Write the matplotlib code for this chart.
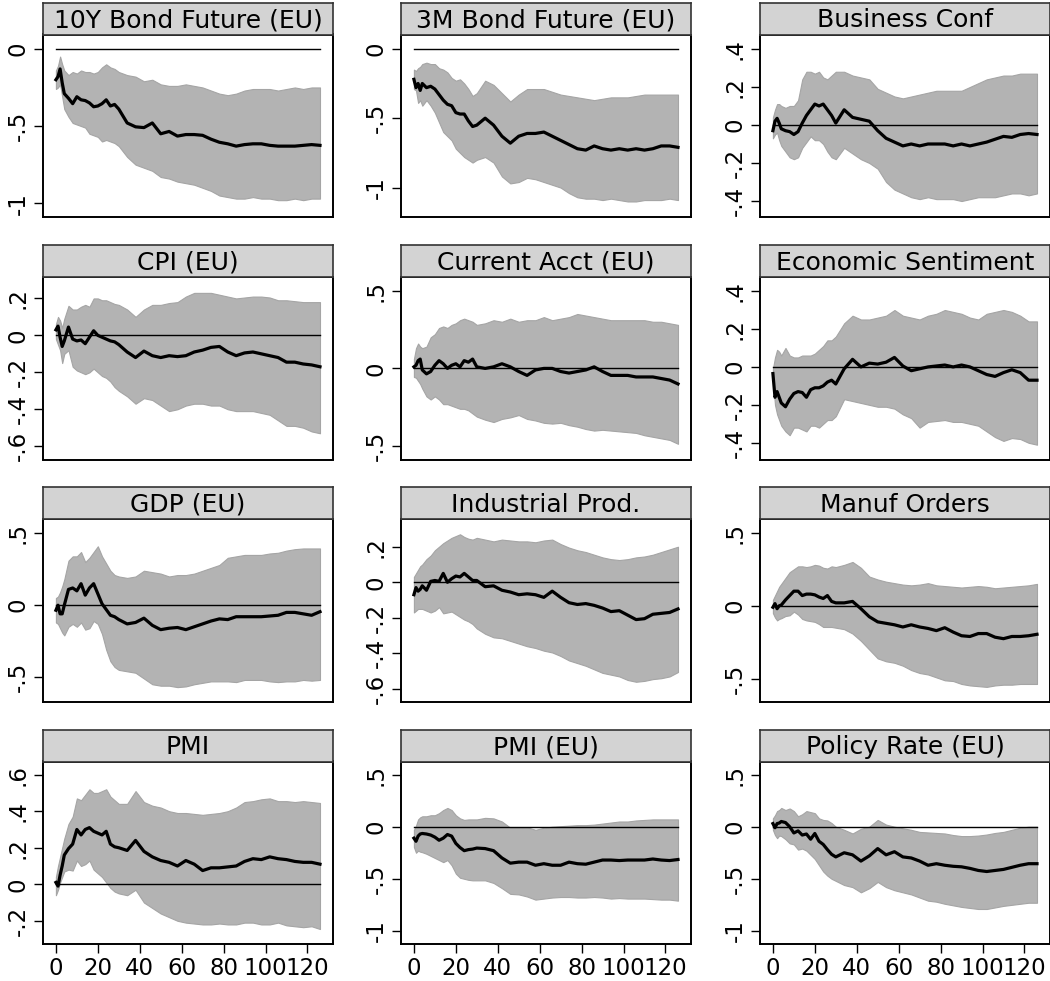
import matplotlib
matplotlib.use('Agg')
import matplotlib.pyplot as plt

# ---------------- data ----------------
horizon = [0, 1, 2, 3, 4, 6, 8, 10, 12, 14, 16, 18, 20, 22, 24, 26, 28, 30,
           34, 38, 42, 46, 50, 54, 58, 62, 66, 70, 74, 78, 82, 86, 90, 94,
           98, 102, 106, 110, 114, 118, 122, 126]

titles = ["10Y Bond Future (EU)", "3M Bond Future (EU)", "Business Conf",
          "CPI (EU)", "Current Acct (EU)", "Economic Sentiment",
          "GDP (EU)", "Industrial Prod.", "Manuf Orders",
          "PMI", "PMI (EU)", "Policy Rate (EU)"]

bond10_mean = [-0.20, -0.18, -0.13, -0.22, -0.29, -0.32, -0.355, -0.31, -0.33, -0.335, -0.35, -0.375, -0.37, -0.355,
               -0.33, -0.37, -0.36, -0.39, -0.48, -0.505, -0.51, -0.48, -0.55, -0.535, -0.565, -0.555, -0.555, -0.56,
               -0.585, -0.605, -0.615, -0.63, -0.62, -0.615, -0.615, -0.625, -0.63, -0.63, -0.63, -0.625, -0.62, -0.625]
bond10_hi = [-0.14, -0.11, -0.05, -0.10, -0.14, -0.17, -0.15, -0.16, -0.14, -0.15, -0.15, -0.16, -0.15, -0.12,
             -0.10, -0.12, -0.13, -0.15, -0.17, -0.18, -0.21, -0.20, -0.23, -0.24, -0.24, -0.23, -0.24, -0.25,
             -0.27, -0.29, -0.30, -0.29, -0.27, -0.26, -0.26, -0.26, -0.27, -0.26, -0.25, -0.26, -0.25, -0.25]
bond10_lo = [-0.26, -0.25, -0.23, -0.31, -0.39, -0.44, -0.48, -0.49, -0.50, -0.51, -0.55, -0.56, -0.57, -0.60,
             -0.59, -0.60, -0.61, -0.63, -0.70, -0.75, -0.77, -0.79, -0.83, -0.84, -0.86, -0.87, -0.88, -0.90,
             -0.92, -0.95, -0.96, -0.97, -0.97, -0.96, -0.97, -0.97, -0.98, -0.98, -0.97, -0.98, -0.97, -0.97]

bond3m_mean = [-0.22, -0.28, -0.25, -0.30, -0.25, -0.28, -0.27, -0.29, -0.33, -0.37, -0.40, -0.41, -0.46, -0.47,
               -0.47, -0.52, -0.56, -0.55, -0.50, -0.55, -0.63, -0.68, -0.63, -0.61, -0.61, -0.60, -0.63, -0.66,
               -0.69, -0.72, -0.73, -0.70, -0.72, -0.73, -0.72, -0.73, -0.72, -0.73, -0.72, -0.70, -0.70, -0.71]
bond3m_hi = [-0.15, -0.16, -0.14, -0.13, -0.11, -0.10, -0.11, -0.11, -0.14, -0.15, -0.17, -0.21, -0.23, -0.22,
             -0.25, -0.29, -0.34, -0.32, -0.23, -0.26, -0.32, -0.38, -0.33, -0.29, -0.29, -0.29, -0.31, -0.33,
             -0.34, -0.35, -0.36, -0.37, -0.36, -0.35, -0.35, -0.35, -0.34, -0.33, -0.33, -0.33, -0.33, -0.33]
bond3m_lo = [-0.29, -0.30, -0.39, -0.37, -0.41, -0.37, -0.41, -0.46, -0.53, -0.60, -0.63, -0.66, -0.72, -0.75,
             -0.78, -0.80, -0.82, -0.80, -0.78, -0.82, -0.92, -0.97, -0.96, -0.93, -0.94, -0.96, -0.98, -1.00,
             -1.04, -1.07, -1.08, -1.08, -1.09, -1.08, -1.09, -1.10, -1.10, -1.09, -1.09, -1.09, -1.08, -1.09]

busconf_mean = [-0.03, 0.02, 0.035, 0.01, -0.02, -0.03, -0.035, -0.05, -0.035, 0.01, 0.05, 0.08, 0.11, 0.10,
                0.11, 0.08, 0.05, 0.01, 0.08, 0.04, 0.03, 0.02, -0.03, -0.07, -0.09, -0.11, -0.10, -0.11,
                -0.10, -0.10, -0.10, -0.11, -0.10, -0.11, -0.10, -0.09, -0.075, -0.06, -0.065, -0.05, -0.045, -0.05]
busconf_hi = [0.04, 0.08, 0.11, 0.11, 0.10, 0.09, 0.10, 0.10, 0.13, 0.24, 0.28, 0.28, 0.27, 0.28,
              0.25, 0.24, 0.26, 0.28, 0.28, 0.26, 0.25, 0.24, 0.19, 0.17, 0.15, 0.14, 0.15, 0.16,
              0.17, 0.18, 0.18, 0.18, 0.18, 0.20, 0.22, 0.24, 0.25, 0.26, 0.26, 0.27, 0.27, 0.27]
busconf_lo = [-0.07, -0.05, -0.04, -0.08, -0.11, -0.14, -0.17, -0.18, -0.17, -0.12, -0.09, -0.06, -0.08, -0.08,
              -0.10, -0.14, -0.17, -0.18, -0.12, -0.15, -0.18, -0.20, -0.23, -0.30, -0.34, -0.36, -0.38, -0.39,
              -0.38, -0.39, -0.39, -0.39, -0.40, -0.39, -0.38, -0.38, -0.38, -0.37, -0.36, -0.36, -0.37, -0.36]

cpi_mean = [0.03, 0.05, -0.01, -0.06, -0.03, 0.045, -0.02, -0.03, -0.025, -0.045, -0.01, 0.025, 0.0, -0.01,
            -0.02, -0.03, -0.035, -0.05, -0.09, -0.12, -0.085, -0.11, -0.12, -0.11, -0.115, -0.11, -0.09, -0.08,
            -0.065, -0.06, -0.09, -0.11, -0.095, -0.09, -0.10, -0.11, -0.12, -0.145, -0.145, -0.155, -0.16, -0.17]
cpi_hi = [0.06, 0.10, 0.08, 0.04, 0.09, 0.16, 0.14, 0.14, 0.155, 0.165, 0.155, 0.20, 0.20, 0.19,
          0.19, 0.18, 0.17, 0.165, 0.14, 0.10, 0.14, 0.165, 0.165, 0.175, 0.18, 0.21, 0.23, 0.23,
          0.23, 0.22, 0.21, 0.20, 0.205, 0.21, 0.21, 0.205, 0.19, 0.19, 0.185, 0.18, 0.18, 0.18]
cpi_lo = [-0.02, -0.05, -0.08, -0.15, -0.10, -0.08, -0.17, -0.19, -0.20, -0.21, -0.20, -0.18, -0.20, -0.22,
          -0.23, -0.25, -0.28, -0.30, -0.33, -0.37, -0.34, -0.35, -0.38, -0.41, -0.40, -0.38, -0.37, -0.37,
          -0.38, -0.38, -0.40, -0.41, -0.41, -0.41, -0.42, -0.43, -0.46, -0.49, -0.49, -0.50, -0.52, -0.53]

curacct_mean = [0.01, 0.02, 0.05, 0.06, -0.01, -0.035, -0.02, 0.02, 0.05, 0.03, 0.0, 0.02, 0.03, 0.01,
                0.05, 0.04, 0.06, 0.01, 0.0, 0.01, 0.03, 0.01, -0.02, -0.045, -0.01, 0.0, 0.0, -0.02,
                -0.03, -0.02, -0.01, 0.01, -0.02, -0.045, -0.045, -0.045, -0.055, -0.055, -0.055, -0.065, -0.075, -0.10]
curacct_hi = [0.06, 0.13, 0.16, 0.14, 0.13, 0.14, 0.20, 0.22, 0.26, 0.27, 0.26, 0.28, 0.29, 0.31,
              0.32, 0.31, 0.30, 0.28, 0.29, 0.31, 0.30, 0.32, 0.30, 0.31, 0.31, 0.33, 0.31, 0.32,
              0.33, 0.35, 0.34, 0.33, 0.32, 0.31, 0.31, 0.31, 0.31, 0.31, 0.30, 0.30, 0.29, 0.28]
curacct_lo = [-0.055, -0.06, -0.08, -0.10, -0.13, -0.18, -0.20, -0.18, -0.20, -0.23, -0.23, -0.24, -0.25, -0.26,
              -0.26, -0.27, -0.29, -0.31, -0.33, -0.345, -0.325, -0.315, -0.30, -0.325, -0.335, -0.35, -0.355, -0.35,
              -0.365, -0.375, -0.39, -0.40, -0.395, -0.40, -0.405, -0.41, -0.415, -0.43, -0.44, -0.45, -0.46, -0.485]

econsent_mean = [-0.035, -0.16, -0.13, -0.16, -0.19, -0.21, -0.17, -0.14, -0.13, -0.135, -0.16, -0.12, -0.11, -0.11,
                 -0.10, -0.08, -0.07, -0.09, -0.01, 0.04, 0.0, 0.02, 0.015, 0.025, 0.05, 0.005, -0.02, -0.01,
                 0.0, 0.005, 0.01, 0.0, 0.01, 0.0, -0.02, -0.04, -0.05, -0.03, -0.015, -0.03, -0.07, -0.07]
econsent_hi = [-0.01, 0.05, 0.09, 0.08, 0.06, 0.10, 0.06, 0.05, 0.05, 0.06, 0.06, 0.06, 0.07, 0.09,
               0.11, 0.14, 0.14, 0.16, 0.23, 0.27, 0.25, 0.25, 0.26, 0.27, 0.30, 0.27, 0.26, 0.25,
               0.27, 0.28, 0.30, 0.29, 0.28, 0.26, 0.25, 0.28, 0.29, 0.30, 0.29, 0.27, 0.24, 0.24]
econsent_lo = [-0.07, -0.20, -0.25, -0.28, -0.31, -0.34, -0.36, -0.32, -0.32, -0.33, -0.34, -0.31, -0.31, -0.32,
               -0.30, -0.28, -0.28, -0.26, -0.17, -0.18, -0.19, -0.20, -0.21, -0.21, -0.22, -0.25, -0.27, -0.32,
               -0.29, -0.285, -0.28, -0.29, -0.29, -0.30, -0.31, -0.34, -0.37, -0.39, -0.375, -0.38, -0.40, -0.41]

gdp_mean = [-0.035, 0.0, -0.06, -0.06, 0.0, 0.11, 0.12, 0.10, 0.15, 0.07, 0.12, 0.15, 0.08, 0.01,
            -0.03, -0.07, -0.08, -0.10, -0.13, -0.12, -0.09, -0.14, -0.17, -0.16, -0.155, -0.17, -0.15, -0.13,
            -0.11, -0.095, -0.10, -0.08, -0.08, -0.08, -0.08, -0.075, -0.07, -0.05, -0.05, -0.06, -0.07, -0.045]
gdp_hi = [0.05, 0.06, 0.09, 0.13, 0.18, 0.31, 0.34, 0.34, 0.37, 0.30, 0.33, 0.37, 0.41, 0.34,
          0.29, 0.24, 0.21, 0.20, 0.19, 0.20, 0.24, 0.23, 0.22, 0.20, 0.21, 0.21, 0.22, 0.24,
          0.26, 0.28, 0.33, 0.34, 0.35, 0.35, 0.35, 0.36, 0.365, 0.38, 0.39, 0.395, 0.395, 0.395]
gdp_lo = [-0.12, -0.13, -0.16, -0.19, -0.21, -0.15, -0.13, -0.15, -0.12, -0.17, -0.16, -0.11, -0.13, -0.20,
          -0.31, -0.39, -0.43, -0.45, -0.46, -0.47, -0.51, -0.55, -0.56, -0.56, -0.57, -0.565, -0.55, -0.54,
          -0.53, -0.53, -0.53, -0.535, -0.52, -0.52, -0.52, -0.53, -0.535, -0.53, -0.53, -0.52, -0.525, -0.52]

indprod_mean = [-0.07, -0.03, -0.05, -0.04, -0.02, -0.045, 0.005, 0.01, 0.005, 0.05, 0.0, 0.02, 0.035, 0.03,
                0.05, 0.03, 0.01, 0.01, -0.025, -0.02, -0.045, -0.055, -0.07, -0.065, -0.07, -0.085, -0.05, -0.085,
                -0.115, -0.125, -0.12, -0.13, -0.145, -0.165, -0.16, -0.185, -0.21, -0.205, -0.18, -0.175, -0.17, -0.15]
indprod_hi = [0.03, 0.05, 0.07, 0.09, 0.10, 0.13, 0.15, 0.18, 0.20, 0.22, 0.235, 0.25, 0.26, 0.27,
              0.255, 0.245, 0.24, 0.25, 0.24, 0.23, 0.24, 0.235, 0.23, 0.23, 0.225, 0.235, 0.24, 0.215,
              0.195, 0.18, 0.17, 0.155, 0.14, 0.13, 0.125, 0.13, 0.14, 0.145, 0.155, 0.17, 0.185, 0.20]
indprod_lo = [-0.17, -0.16, -0.15, -0.15, -0.15, -0.16, -0.17, -0.16, -0.14, -0.175, -0.17, -0.165, -0.18, -0.195,
              -0.21, -0.22, -0.235, -0.26, -0.29, -0.31, -0.315, -0.33, -0.345, -0.36, -0.37, -0.385, -0.395, -0.415,
              -0.44, -0.455, -0.47, -0.49, -0.51, -0.52, -0.53, -0.55, -0.56, -0.555, -0.545, -0.54, -0.53, -0.505]

manuf_mean = [-0.01, 0.015, -0.02, 0.0, 0.005, 0.04, 0.07, 0.10, 0.10, 0.07, 0.08, 0.08, 0.075, 0.06,
              0.05, 0.07, 0.03, 0.02, 0.02, 0.03, -0.02, -0.075, -0.11, -0.12, -0.13, -0.145, -0.13, -0.145,
              -0.155, -0.17, -0.15, -0.18, -0.205, -0.21, -0.19, -0.19, -0.215, -0.225, -0.21, -0.21, -0.205, -0.195]
manuf_hi = [0.04, 0.07, 0.10, 0.13, 0.15, 0.19, 0.23, 0.25, 0.27, 0.27, 0.265, 0.27, 0.28, 0.275,
            0.26, 0.255, 0.27, 0.265, 0.28, 0.30, 0.26, 0.20, 0.18, 0.165, 0.155, 0.145, 0.14, 0.145,
            0.155, 0.14, 0.135, 0.13, 0.125, 0.13, 0.135, 0.13, 0.12, 0.125, 0.13, 0.135, 0.14, 0.15]
manuf_lo = [-0.05, -0.08, -0.10, -0.09, -0.085, -0.07, -0.065, -0.04, -0.06, -0.09, -0.10, -0.105, -0.11, -0.125,
            -0.145, -0.145, -0.145, -0.15, -0.16, -0.19, -0.24, -0.30, -0.36, -0.38, -0.39, -0.41, -0.44, -0.46,
            -0.47, -0.49, -0.51, -0.515, -0.535, -0.545, -0.55, -0.555, -0.545, -0.54, -0.54, -0.535, -0.535, -0.535]

pmi_mean = [0.01, -0.01, 0.05, 0.10, 0.16, 0.195, 0.22, 0.30, 0.27, 0.30, 0.31, 0.29, 0.28, 0.27,
            0.29, 0.22, 0.205, 0.20, 0.185, 0.24, 0.18, 0.15, 0.13, 0.12, 0.10, 0.13, 0.11, 0.075,
            0.09, 0.09, 0.095, 0.10, 0.125, 0.14, 0.135, 0.15, 0.14, 0.135, 0.125, 0.12, 0.12, 0.11]
pmi_hi = [0.04, 0.10, 0.15, 0.20, 0.25, 0.33, 0.37, 0.47, 0.46, 0.49, 0.52, 0.50, 0.50, 0.51,
          0.52, 0.48, 0.46, 0.44, 0.44, 0.51, 0.45, 0.43, 0.42, 0.40, 0.39, 0.39, 0.385, 0.38,
          0.385, 0.39, 0.40, 0.42, 0.45, 0.455, 0.465, 0.47, 0.455, 0.455, 0.45, 0.455, 0.45, 0.445]
pmi_lo = [-0.06, -0.03, 0.01, 0.04, 0.07, 0.08, 0.075, 0.13, 0.10, 0.11, 0.13, 0.08, 0.06, 0.04,
          0.01, -0.02, -0.04, -0.05, -0.06, -0.03, -0.10, -0.13, -0.16, -0.18, -0.20, -0.21, -0.215, -0.22,
          -0.22, -0.215, -0.22, -0.22, -0.21, -0.21, -0.22, -0.22, -0.21, -0.225, -0.23, -0.235, -0.23, -0.245]

pmieu_mean = [-0.11, -0.14, -0.09, -0.07, -0.065, -0.07, -0.08, -0.10, -0.13, -0.11, -0.075, -0.09, -0.16, -0.20,
              -0.23, -0.22, -0.215, -0.205, -0.21, -0.23, -0.30, -0.35, -0.34, -0.34, -0.37, -0.355, -0.37, -0.37,
              -0.34, -0.355, -0.36, -0.34, -0.32, -0.32, -0.325, -0.32, -0.32, -0.32, -0.31, -0.32, -0.325, -0.315]
pmieu_hi = [-0.03, 0.01, 0.07, 0.09, 0.10, 0.10, 0.11, 0.11, 0.13, 0.16, 0.18, 0.16, 0.11, 0.08,
            0.065, 0.07, 0.07, 0.07, 0.085, 0.08, 0.05, -0.01, -0.01, -0.005, -0.03, -0.01, 0.0, 0.005,
            0.01, 0.015, 0.015, 0.02, 0.03, 0.04, 0.05, 0.05, 0.06, 0.065, 0.07, 0.07, 0.07, 0.07]
pmieu_lo = [-0.195, -0.25, -0.23, -0.24, -0.245, -0.26, -0.28, -0.30, -0.32, -0.34, -0.32, -0.37, -0.45, -0.49,
            -0.50, -0.51, -0.515, -0.515, -0.515, -0.54, -0.59, -0.645, -0.65, -0.67, -0.70, -0.69, -0.68, -0.675,
            -0.675, -0.68, -0.68, -0.675, -0.68, -0.69, -0.685, -0.69, -0.69, -0.69, -0.695, -0.70, -0.70, -0.71]

policy_mean = [0.03, -0.01, 0.03, 0.035, 0.05, 0.04, 0.0, -0.06, -0.04, -0.08, -0.07, -0.12, -0.065, -0.14,
               -0.17, -0.22, -0.265, -0.29, -0.25, -0.27, -0.33, -0.28, -0.21, -0.27, -0.24, -0.29, -0.30, -0.33,
               -0.37, -0.355, -0.37, -0.38, -0.385, -0.40, -0.42, -0.43, -0.42, -0.41, -0.39, -0.37, -0.355, -0.355]
policy_hi = [0.08, 0.11, 0.15, 0.16, 0.18, 0.16, 0.175, 0.15, 0.10, 0.12, 0.15, 0.14, 0.13, 0.08,
             0.065, 0.06, 0.035, 0.0, -0.03, -0.065, -0.02, 0.0, 0.065, 0.02, 0.0, -0.015, -0.03, -0.05,
             -0.055, -0.06, -0.065, -0.08, -0.09, -0.09, -0.085, -0.075, -0.06, -0.05, -0.03, -0.01, 0.0, 0.0]
policy_lo = [-0.03, -0.08, -0.11, -0.085, -0.09, -0.12, -0.16, -0.17, -0.22, -0.21, -0.23, -0.27, -0.31, -0.37,
             -0.43, -0.47, -0.50, -0.52, -0.56, -0.58, -0.63, -0.59, -0.53, -0.58, -0.61, -0.63, -0.65, -0.68,
             -0.71, -0.72, -0.74, -0.755, -0.77, -0.78, -0.79, -0.79, -0.775, -0.76, -0.75, -0.74, -0.73, -0.73]

means = [bond10_mean, bond3m_mean, busconf_mean, cpi_mean, curacct_mean, econsent_mean,
         gdp_mean, indprod_mean, manuf_mean, pmi_mean, pmieu_mean, policy_mean]
his = [bond10_hi, bond3m_hi, busconf_hi, cpi_hi, curacct_hi, econsent_hi,
       gdp_hi, indprod_hi, manuf_hi, pmi_hi, pmieu_hi, policy_hi]
los = [bond10_lo, bond3m_lo, busconf_lo, cpi_lo, curacct_lo, econsent_lo,
       gdp_lo, indprod_lo, manuf_lo, pmi_lo, pmieu_lo, policy_lo]

yticks = [[-1, -0.5, 0], [-1, -0.5, 0], [-0.4, -0.2, 0, 0.2, 0.4],
          [-0.6, -0.4, -0.2, 0, 0.2], [-0.5, 0, 0.5], [-0.4, -0.2, 0, 0.2, 0.4],
          [-0.5, 0, 0.5], [-0.6, -0.4, -0.2, 0, 0.2], [-0.5, 0, 0.5],
          [-0.2, 0, 0.2, 0.4, 0.6], [-1, -0.5, 0, 0.5], [-1, -0.5, 0, 0.5]]
ylims = [(-1.089, 0.093), (-1.212, 0.103), (-0.484, 0.476),
         (-0.672, 0.316), (-0.586, 0.588), (-0.488, 0.474),
         (-0.670, 0.600), (-0.671, 0.356), (-0.655, 0.594),
         (-0.327, 0.672), (-1.126, 0.626), (-1.126, 0.626)]
xticks = [0, 20, 40, 60, 80, 100, 120]


def fmt(v):
    if abs(v) < 1e-9:
        return "0"
    if float(v).is_integer():
        return str(int(v))
    s = f"{v:g}"
    return s.replace("0.", ".")


# ---------------- figure ----------------
W, H = 1050, 981
fig = plt.figure(figsize=(W / 100, H / 100), dpi=100)
fig.patch.set_facecolor('white')

col_left = [42.7, 400.7, 759.7]
ax_w = 290.5
row_top = [34.5, 277.0, 519.0, 761.5]
ax_h = 182.5
strip_h = 32.0

band_color = '#b3b3b3'
strip_color = '#d3d3d3'

for i in range(12):
    r, c = divmod(i, 3)
    left = col_left[c] / W
    bottom = 1 - (row_top[r] + ax_h) / H
    ax = fig.add_axes([left, bottom, ax_w / W, ax_h / H])
    ax.fill_between(horizon, los[i], his[i], color=band_color, linewidth=0.8,
                    edgecolor='#a5a5a5', zorder=1)
    ax.plot([horizon[0], horizon[-1]], [0, 0], color='black', lw=1.0, zorder=2)
    ax.plot(horizon, means[i], color='black', lw=2.3, zorder=3,
            solid_joinstyle='round')
    ax.set_xlim(-6.3, 132.3)
    ax.set_ylim(*ylims[i])
    ax.set_yticks(yticks[i])
    ax.set_yticklabels([fmt(v) for v in yticks[i]], rotation=90, va='center',
                       fontsize=16.5)
    ax.set_xticks(xticks)
    if r == 3:
        ax.set_xticklabels([str(v) for v in xticks], fontsize=16.5)
    else:
        ax.tick_params(axis='x', bottom=False, labelbottom=False)
    ax.tick_params(axis='both', length=6.5, width=1.0, pad=3, color='black')
    for sp in ax.spines.values():
        sp.set_linewidth(1.4)
        sp.set_color('black')

    # title strip
    sax = fig.add_axes([left, 1 - row_top[r] / H, ax_w / W, strip_h / H])
    sax.set_facecolor(strip_color)
    sax.set_xticks([])
    sax.set_yticks([])
    for sp in sax.spines.values():
        sp.set_linewidth(1.2)
        sp.set_color('#333333')
    sax.text(0.5, 0.45, titles[i], ha='center', va='center', fontsize=18,
             transform=sax.transAxes)

fig.savefig('out.png', dpi=100, facecolor='white')
